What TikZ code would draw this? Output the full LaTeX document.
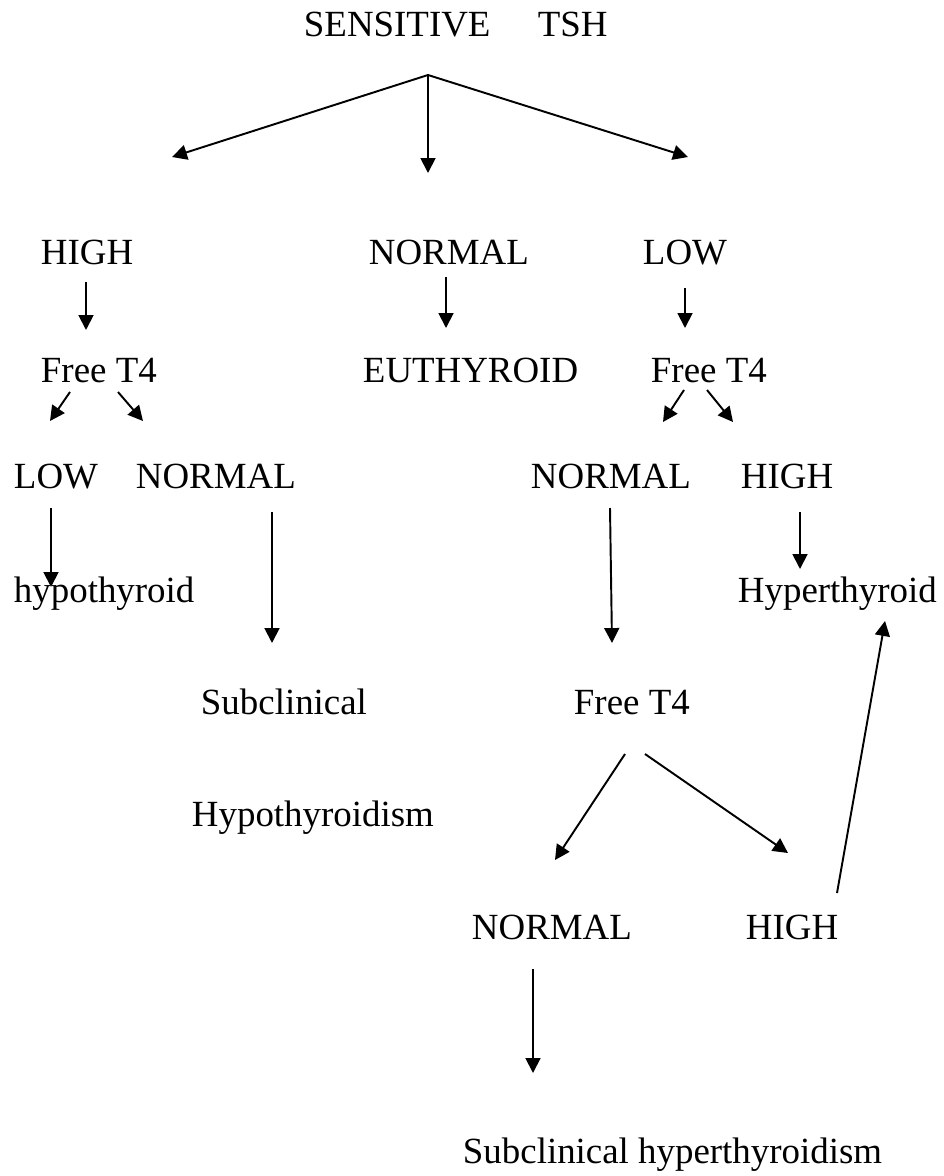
\documentclass[tikz,border=0pt]{standalone}
\usepackage{fontspec}
\setmainfont{Liberation Serif}
\usetikzlibrary{arrows.meta}
\begin{document}
\begin{tikzpicture}[x=0.02cm,y=-0.02cm,>={Triangle[length=8.5pt,width=8.5pt]},line width=1.1pt,
  every node/.style={anchor=base west,inner sep=0pt,font=\fontsize{21}{25}\selectfont}]
  \useasboundingbox (0,0) rectangle (943,1176);
  \node (tsh) at (303,37) {SENSITIVE\hspace{27pt}TSH};
  \node (high) at (40,264) {HIGH};
  \node (norm) at (368,264) {NORMAL};
  \node (low) at (642,264) {LOW};
  \node (ftl) at (40,382) {Free T4};
  \node (eu) at (362,382) {EUTHYROID};
  \node (ftr) at (650,382) {Free T4};
  \node (lowl) at (13,488) {LOW};
  \node (norml) at (135,488) {NORMAL};
  \node (normr) at (530,488) {NORMAL};
  \node (highr) at (740,488) {HIGH};
  \node (hypo) at (13,602) {hypothyroid};
  \node (hyper) at (737,602) {Hyperthyroid};
  \node (subl) at (200,714) {Subclinical};
  \node (ftb) at (573,714) {Free T4};
  \node (hypoism) at (191,826) {Hypothyroidism};
  \node (normb) at (471,939) {NORMAL};
  \node (highb) at (745,939) {HIGH};
  \node (subh) at (462,1163) {Subclinical hyperthyroidism};
  % arrow ends
  \coordinate (top) at (428,75);
  \coordinate (tl) at (172,157);
  \coordinate (tc) at (428,173);
  \coordinate (tr) at (688,157);
  \coordinate (h1) at (86,282);   \coordinate (h2) at (86,330);
  \coordinate (n1) at (446,277);  \coordinate (n2) at (446,328);
  \coordinate (l1) at (685,288);  \coordinate (l2) at (685,328);
  \coordinate (fl) at (70,392);   \coordinate (fl1) at (50,421);
  \coordinate (fr) at (118,392);  \coordinate (fr1) at (143,421);
  \coordinate (gl) at (684,390);  \coordinate (gl1) at (663,422);
  \coordinate (gr) at (707,390);  \coordinate (gr1) at (733,422);
  \coordinate (ll1) at (51,508);  \coordinate (ll2) at (51,587);
  \coordinate (nl1) at (272,512); \coordinate (nl2) at (272,643);
  \coordinate (nr1) at (610,508); \coordinate (nr2) at (612,643);
  \coordinate (hr1) at (800,512); \coordinate (hr2) at (800,569);
  \coordinate (bl) at (625,754);  \coordinate (bl1) at (555,860);
  \coordinate (br) at (645,754);  \coordinate (br1) at (788,853);
  \coordinate (up1) at (837,893); \coordinate (up2) at (885,621);
  \coordinate (nb1) at (533,969); \coordinate (nb2) at (533,1073);
  \draw[->] (top) -- (tl);
  \draw[->] (top) -- (tc);
  \draw[->] (top) -- (tr);
  \draw[->] (h1) -- (h2);
  \draw[->] (n1) -- (n2);
  \draw[->] (l1) -- (l2);
  \draw[->] (fl) -- (fl1);
  \draw[->] (fr) -- (fr1);
  \draw[->] (gl) -- (gl1);
  \draw[->] (gr) -- (gr1);
  \draw[->] (ll1) -- (ll2);
  \draw[->] (nl1) -- (nl2);
  \draw[->] (nr1) -- (nr2);
  \draw[->] (hr1) -- (hr2);
  \draw[->] (bl) -- (bl1);
  \draw[->] (br) -- (br1);
  \draw[->] (up1) -- (up2);
  \draw[->] (nb1) -- (nb2);
\end{tikzpicture}
\end{document}
